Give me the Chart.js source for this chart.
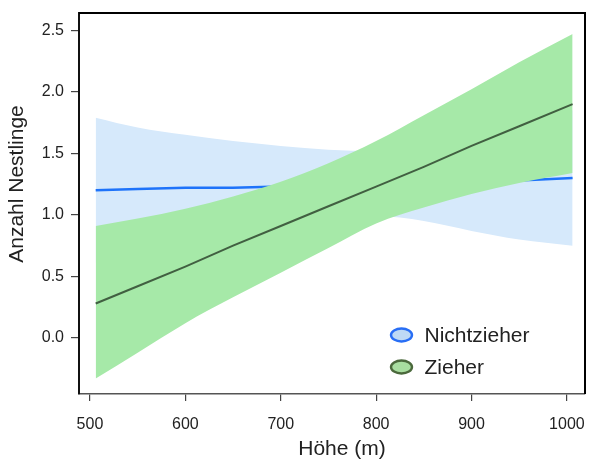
<!DOCTYPE html>
<html>
<head>
<meta charset="utf-8">
<script src="https://cdn.jsdelivr.net/npm/chart.js@4.4.1/dist/chart.umd.min.js"></script>
<style>
  html, body { margin: 0; padding: 0; background: #ffffff; }
  #wrap { width: 589px; height: 461px; }
</style>
</head>
<body>
<div id="wrap"><canvas id="c" width="589" height="461"></canvas></div>
<script>
// ---- data ----
const hoehe = [506, 550, 600, 650, 700, 750, 800, 850, 900, 950, 1006];

const nichtzieherFit   = [1.20, 1.21, 1.22, 1.22, 1.23, 1.24, 1.25, 1.26, 1.27, 1.28, 1.30];
const nichtzieherUpper = [1.79, 1.71, 1.65, 1.60, 1.56, 1.53, 1.52, 1.55, 1.65, 1.75, 1.85];
const nichtzieherLower = [0.61, 0.72, 0.82, 0.88, 0.93, 0.97, 0.99, 0.95, 0.87, 0.80, 0.75];

const zieherFit   = [0.28, 0.42, 0.58, 0.75, 0.91, 1.07, 1.23, 1.39, 1.56, 1.72, 1.90];
const zieherUpper = [0.91, 0.97, 1.05, 1.15, 1.27, 1.42, 1.60, 1.81, 2.02, 2.24, 2.47];
const zieherLower = [-0.33, -0.12, 0.12, 0.33, 0.53, 0.73, 0.93, 1.06, 1.17, 1.26, 1.34];

const xTickValues = [500, 600, 700, 800, 900, 1000];
const yTickValues = [0.0, 0.5, 1.0, 1.5, 2.0, 2.5];

const seriesNames = ['Nichtzieher', 'Zieher'];
const xTitle = 'Höhe (m)';
const yTitle = 'Anzahl Nestlinge';

// ---- helpers ----
const pts = (ys) => hoehe.map((x, i) => ({ x: x, y: ys[i] }));

const FONT = "'Liberation Sans', Arial, sans-serif";

const blueBand = 'rgb(214,233,251)';
const blueLine = 'rgb(30,115,250)';
const greenBand = 'rgb(166,233,168)';
const greenLine = 'rgb(65,95,65)';

const legendItems = [
  { label: seriesNames[0], fill: 'rgb(190,218,245)', stroke: 'rgb(40,110,245)' },
  { label: seriesNames[1], fill: 'rgb(168,222,160)', stroke: 'rgb(75,105,60)' }
];

const frameAndLegend = {
  id: 'frameAndLegend',
  afterDraw(chart) {
    const ctx = chart.ctx;
    const a = chart.chartArea;
    ctx.save();
    // top and right frame
    ctx.strokeStyle = '#000';
    ctx.lineWidth = 2;
    ctx.beginPath();
    ctx.moveTo(a.left, a.top);
    ctx.lineTo(a.right, a.top);
    ctx.lineTo(a.right, a.bottom);
    ctx.stroke();
    // axis titles
    ctx.fillStyle = '#222';
    ctx.font = '21px ' + FONT;
    ctx.textAlign = 'center';
    ctx.textBaseline = 'middle';
    ctx.fillText(xTitle, a.left + 263, 449);
    ctx.save();
    ctx.translate(17, 184);
    ctx.rotate(-Math.PI / 2);
    ctx.fillText(yTitle, 0, 0);
    ctx.restore();
    // legend
    ctx.textAlign = 'left';
    const x0 = a.left + (401.5 - 79);
    const y0 = 335;
    const dy = 32;
    legendItems.forEach((it, i) => {
      const cy = y0 + i * dy;
      ctx.beginPath();
      ctx.ellipse(x0, cy, 10.5, 6.5, 0, 0, Math.PI * 2);
      ctx.fillStyle = it.fill;
      ctx.fill();
      ctx.lineWidth = 2.4;
      ctx.strokeStyle = it.stroke;
      ctx.stroke();
      ctx.fillStyle = '#222';
      ctx.fillText(it.label, x0 + 23, cy + 1);
    });
    ctx.restore();
  }
};

const band = { borderWidth: 0, borderColor: 'rgba(0,0,0,0)', pointRadius: 0, cubicInterpolationMode: 'monotone' };

new Chart(document.getElementById('c'), {
  type: 'line',
  data: {
    datasets: [
      { label: 'Zieher', data: pts(zieherFit), borderColor: greenLine, borderWidth: 2,
        pointRadius: 0, fill: false, order: 0, tension: 0 },
      Object.assign({ label: 'Zieher upper', data: pts(zieherUpper), backgroundColor: greenBand, fill: 2, order: 1 }, band),
      Object.assign({ label: 'Zieher lower', data: pts(zieherLower), fill: false, order: 1 }, band),
      { label: 'Nichtzieher', data: pts(nichtzieherFit), borderColor: blueLine, borderWidth: 2.5,
        pointRadius: 0, fill: false, order: 2 },
      Object.assign({ label: 'Nichtzieher upper', data: pts(nichtzieherUpper), backgroundColor: blueBand, fill: 5, order: 3 }, band),
      Object.assign({ label: 'Nichtzieher lower', data: pts(nichtzieherLower), fill: false, order: 3 }, band)
    ]
  },
  options: {
    responsive: false,
    animation: false,
    layout: { padding: { top: 13, right: 4, left: 0, bottom: 0 } },
    plugins: {
      legend: { display: false },
      tooltip: { enabled: false },
      filler: { propagate: false }
    },
    scales: {
      x: {
        type: 'linear',
        min: 488.5,
        max: 1019,
        afterBuildTicks: (axis) => { axis.ticks = xTickValues.map(v => ({ value: v })); },
        afterFit: (scale) => { scale.height = 67; scale.paddingLeft = 0; scale.paddingRight = 0; },
        grid: { drawOnChartArea: false, drawTicks: true, tickLength: 7, color: '#444', lineWidth: 1.2 },
        border: { display: true, color: '#555', width: 1.5 },
        ticks: { color: '#222', font: { size: 16, family: FONT }, padding: 14, maxRotation: 0,
          callback: (v) => String(v) },
        title: { display: false }
      },
      y: {
        type: 'linear',
        min: -0.455,
        max: 2.64,
        afterBuildTicks: (axis) => { axis.ticks = yTickValues.map(v => ({ value: v })); },
        afterFit: (scale) => { scale.width = 79; scale.paddingTop = 0; scale.paddingBottom = 0; },
        grid: { drawOnChartArea: false, drawTicks: true, tickLength: 8, color: '#444', lineWidth: 1.2 },
        border: { display: true, color: '#111', width: 2 },
        ticks: { color: '#222', font: { size: 16, family: FONT }, padding: 7,
          callback: (v) => Number(v).toFixed(1) },
        title: { display: false }
      }
    }
  },
  plugins: [frameAndLegend]
});
</script>
</body>
</html>
